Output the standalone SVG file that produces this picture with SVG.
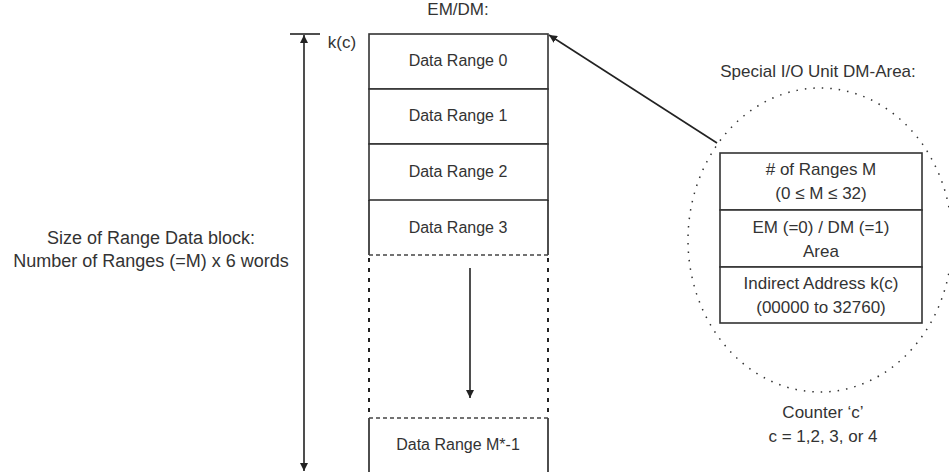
<svg xmlns="http://www.w3.org/2000/svg" width="949" height="472" viewBox="0 0 949 472">
<defs>
<style>
text{font-family:"Liberation Sans",Arial,sans-serif;font-size:17px;fill:#333;text-anchor:middle}
text.dr{font-size:16px}
text.big{font-size:18px}
.box{fill:#fff;stroke:#333;stroke-width:1.6}
.ln{stroke:#222;stroke-width:1.6;fill:none}
.dot{stroke:#222;stroke-width:2;fill:none;stroke-dasharray:4 6}
.dash{stroke:#444;stroke-width:1.4;fill:none;stroke-dasharray:4 3}
.ell{stroke:#333;stroke-width:1.5;fill:none;stroke-dasharray:1.5 7}
</style>
<marker id="ah" viewBox="0 0 10 10" refX="10" refY="5" markerWidth="8" markerHeight="8" markerUnits="userSpaceOnUse" orient="auto-start-reverse">
<path d="M0,0 L10,5 L0,10 z" fill="#222"/>
</marker>
</defs>
<text x="458" y="15">EM/DM:</text>
<g id="dr0"><rect class="box" x="369" y="34" width="179" height="55"/><text class="dr" x="458" y="66">Data Range 0</text></g>
<g id="dr1"><rect class="box" x="369" y="89" width="179" height="55"/><text class="dr" x="458" y="121">Data Range 1</text></g>
<g id="dr2"><rect class="box" x="369" y="144" width="179" height="56"/><text class="dr" x="458" y="177">Data Range 2</text></g>
<g id="dr3"><path class="ln" d="M369,200 V255 M548,200 V255"/><path class="dash" d="M369,255 H548"/><text class="dr" x="458" y="233">Data Range 3</text></g>
<g id="gap"><path class="dot" d="M369,258 V418 M548,258 V418"/></g>
<g id="drM"><path class="ln" d="M369,418 V472 M548,418 V472"/><path class="dash" d="M369,418 H548"/><text class="dr" x="458" y="450">Data Range M*-1</text></g>
<g id="size-label"><text class="big" x="151" y="244">Size of Range Data block:</text><text class="big" x="151" y="267">Number of Ranges (=M) x 6 words</text></g>
<text x="342" y="48">k(c)</text>
<g id="dm-area">
<ellipse class="ell" cx="820" cy="240" rx="132" ry="152"/>
<text x="818" y="77">Special I/O Unit DM-Area:</text>
<rect class="box" x="720" y="153" width="202" height="57"/>
<rect class="box" x="720" y="210" width="202" height="57"/>
<rect class="box" x="720" y="267" width="202" height="56"/>
<text x="821" y="175"># of Ranges M</text>
<text x="821" y="199">(0 ≤ M ≤ 32)</text>
<text x="821" y="233">EM (=0) / DM (=1)</text>
<text x="821" y="257">Area</text>
<text x="821" y="289">Indirect Address k(c)</text>
<text x="821" y="313">(00000 to 32760)</text>
<text x="823" y="418">Counter ‘c’</text>
<text x="823" y="442">c = 1,2, 3, or 4</text>
</g>
<g id="connectors">
<path class="ln" d="M290,34 H320"/>
<path class="ln" d="M304,35 V471" marker-start="url(#ah)" marker-end="url(#ah)"/>
<path class="ln" d="M470,268 V398" marker-end="url(#ah)"/>
<path class="ln" d="M717,143 L549,35" marker-end="url(#ah)"/>
</g>
</svg>
